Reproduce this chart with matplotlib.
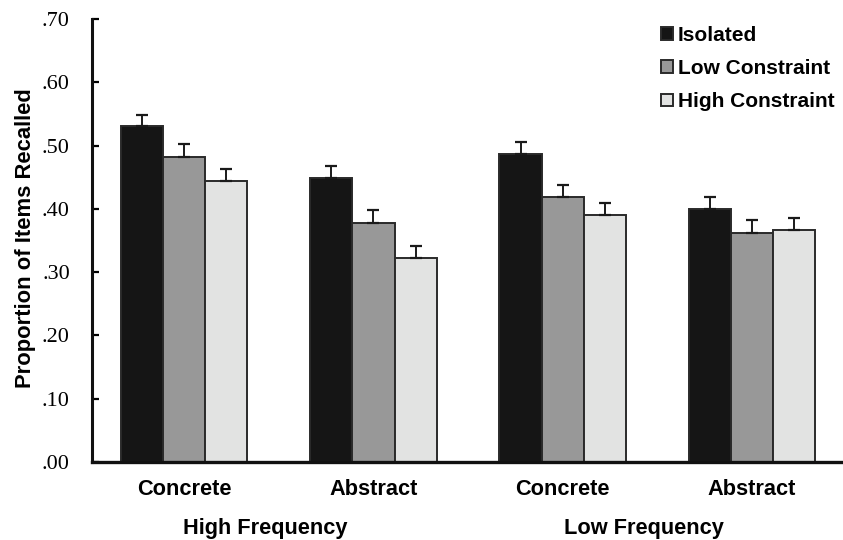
import numpy as np
import matplotlib
matplotlib.use("Agg")
import matplotlib.pyplot as plt
from matplotlib.patches import Patch

# data
conditions = ["Concrete", "Abstract", "Concrete", "Abstract"]
frequency_groups = ["High Frequency", "Low Frequency"]
series_names = ["Isolated", "Low Constraint", "High Constraint"]

isolated = [0.531, 0.448, 0.486, 0.399]
low_constraint = [0.482, 0.378, 0.419, 0.362]
high_constraint = [0.444, 0.322, 0.390, 0.367]

isolated_err = [0.018, 0.019, 0.019, 0.019]
low_err = [0.020, 0.020, 0.019, 0.020]
high_err = [0.019, 0.019, 0.020, 0.019]

y_ticks = [0.0, 0.1, 0.2, 0.3, 0.4, 0.5, 0.6, 0.7]
y_tick_labels = [".00", ".10", ".20", ".30", ".40", ".50", ".60", ".70"]

colors = ["#151515", "#989898", "#e2e3e2"]
sans = ["Liberation Sans", "DejaVu Sans"]

fig = plt.figure(figsize=(8.43, 5.40), dpi=100)
ax = fig.add_axes([92/843, 1-462/540, 1-92/843, (462-19)/540])

x = np.arange(len(conditions))
w = 0.223
values = [isolated, low_constraint, high_constraint]
errors = [isolated_err, low_err, high_err]

for i in range(3):
    ax.bar(x + (i-1)*w, values[i], width=w, color=colors[i],
           edgecolor="#2a2a2a", linewidth=1.4, zorder=2)
    ax.errorbar(x + (i-1)*w, values[i], yerr=[np.zeros(4), errors[i]],
                fmt="none", ecolor="#1a1a1a", elinewidth=1.4, capsize=4,
                capthick=1.6, zorder=3)

ax.set_xlim(-0.486, 3.48)
ax.set_ylim(0, 0.7)
ax.set_yticks(y_ticks)
ax.set_yticklabels(y_tick_labels, fontfamily=["Liberation Serif", "DejaVu Serif"], fontsize=16)
ax.set_xticks(x)
ax.set_xticklabels(conditions, fontfamily=sans, fontweight="bold", fontsize=15.7)

ax.tick_params(axis="y", direction="in", length=5, width=1.6, pad=16)
ax.tick_params(axis="x", length=0, pad=12)

for side in ["top", "right"]:
    ax.spines[side].set_visible(False)
ax.spines["left"].set_linewidth(2.2)
ax.spines["bottom"].set_linewidth(2.4)
ax.spines["left"].set_color("#111111")
ax.spines["bottom"].set_color("#111111")

ax.set_ylabel("Proportion of Items Recalled", fontfamily=sans,
              fontweight="bold", fontsize=15.8)
ax.yaxis.set_label_coords(-0.0746, 0.506)

# group labels under the condition labels (sit a little left of the pair centre)
for j, name in enumerate(frequency_groups):
    ax.text(2*j + 0.431, -0.149, name, transform=ax.get_xaxis_transform(),
            ha="center", va="center", fontsize=15.7, fontweight="bold",
            fontfamily=sans)

handles = [Patch(facecolor=colors[i], edgecolor="#2a2a2a", linewidth=1.4) for i in range(3)]
leg = fig.legend(handles, series_names, loc="upper left",
                 bbox_to_anchor=(661/843, 1-26/540), frameon=False,
                 prop={"family": sans, "weight": "bold", "size": 15},
                 handlelength=0.58, handleheight=0.58, handletextpad=0.24,
                 labelspacing=0.68, borderpad=0, borderaxespad=0)

plt.savefig("out.png", dpi=100)
